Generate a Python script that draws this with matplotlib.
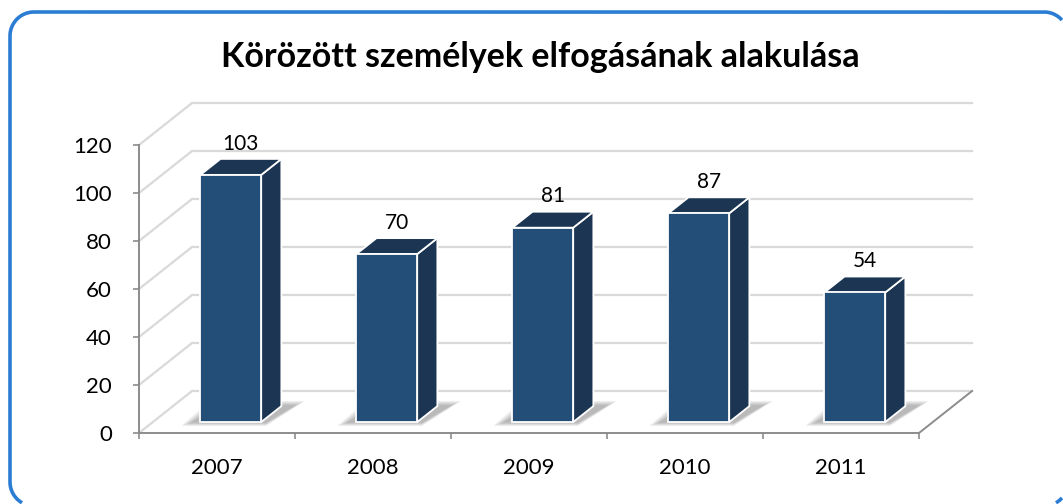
import numpy as np
import matplotlib
matplotlib.use("Agg")
import matplotlib.pyplot as plt
from matplotlib.patches import Polygon, Rectangle
from matplotlib.lines import Line2D
from matplotlib.transforms import Affine2D

# adatok
years = ["2007", "2008", "2009", "2010", "2011"]
values = [103, 70, 81, 87, 54]
yticks = [0, 20, 40, 60, 80, 100, 120]
title = "Körözött személyek elfogásának alakulása"

plt.rcParams['font.family'] = ['Lato', 'DejaVu Sans']

W, H = 1063, 504
fig = plt.figure(figsize=(W / 100, H / 100), dpi=100)

# az axes a "3D doboz" elso sikja
ax = fig.add_axes([139 / W, (H - 433) / H, 780 / W, 288 / H])
ax.set_xlim(0, len(years))
ax.set_ylim(0, 120)
ax.patch.set_visible(False)

DX, DY = 0.34, 17.5      # padlo melysege adategysegben
BW = 0.39                # oszlop szelesseg
F = 0.26                 # oszlop elejenek helye a melysegben
D = 0.38                 # oszlop melysege
ddx, ddy = D * DX, D * DY

grid_c = "#d9d9d9"
axis_c = "#8c8c8c"
front_c = "#234e78"
dark_c = "#1b3552"

n = len(years)
# racsvonalak: bal fal + hatso fal
for v in yticks:
    ax.plot([0, DX], [v, v + DY], color=grid_c, lw=1.6, clip_on=False, zorder=1)
    ax.plot([DX, n + DX], [v + DY, v + DY], color=grid_c, lw=1.6, clip_on=False, zorder=1)
# padlo jobb szele
ax.plot([n, n + DX], [0, DY], color=axis_c, lw=1.4, clip_on=False, zorder=1)

# tengelyek
for s in ["top", "right"]:
    ax.spines[s].set_visible(False)
for s in ["left", "bottom"]:
    ax.spines[s].set_color(axis_c)
    ax.spines[s].set_linewidth(1.4)
ax.set_yticks(yticks)
ax.set_yticklabels([str(t) for t in yticks])
ax.tick_params(axis="y", length=4.5, width=1.2, color=axis_c, pad=15, labelsize=16)
ax.set_xticks(range(n + 1))
ax.set_xticklabels([])
ax.tick_params(axis="x", which="major", length=4.5, width=1.2, color=axis_c)
ax.set_xticks([i + 0.5 for i in range(n)], minor=True)
ax.set_xticklabels(years, minor=True)
ax.tick_params(axis="x", which="minor", length=0, pad=18, labelsize=16)

for i, v in enumerate(values):
    x0 = i + 0.5 - BW / 2 + F * DX
    y0 = F * DY
    # arnyek
    for k in range(6):
        e = 0.012 * (6 - k)
        ey = 0.9 * (6 - k)
        shadow = [(x0 - e - 0.05, y0 - ey * 0.3), (x0 + BW + 0.03, y0 - ey * 0.3),
                  (x0 + BW + ddx + e + 0.08, y0 + ddy + ey * 0.4),
                  (x0 + ddx - e, y0 + ddy + ey * 0.4)]
        ax.add_patch(Polygon(shadow, closed=True, facecolor="#404040", edgecolor="none",
                             alpha=0.07, clip_on=False, zorder=2))
    # oldal
    side = [(x0 + BW, y0), (x0 + BW + ddx, y0 + ddy),
            (x0 + BW + ddx, y0 + v + ddy), (x0 + BW, y0 + v)]
    ax.add_patch(Polygon(side, closed=True, facecolor=dark_c, edgecolor="white",
                         lw=1.3, clip_on=False, zorder=3))
    # teteje
    top = [(x0, y0 + v), (x0 + BW, y0 + v),
           (x0 + BW + ddx, y0 + v + ddy), (x0 + ddx, y0 + v + ddy)]
    ax.add_patch(Polygon(top, closed=True, facecolor=dark_c, edgecolor="white",
                         lw=1.3, clip_on=False, zorder=3))
    # eleje
    ax.add_patch(Rectangle((x0, y0), BW, v, facecolor=front_c, edgecolor="white",
                           lw=1.3, clip_on=False, zorder=4))
    ax.text(x0 + BW / 2 + ddx / 2, y0 + v + ddy + 2.2, str(v), ha="center", va="bottom",
            fontsize=15, color="black", zorder=5)

fig.text(540 / W, (H - 57) / H, title, ha="center", va="center",
         fontsize=24.5, fontweight="bold")

# lekerekitett keret, csak a kepen beluli resze (pixel, felulrol merve)
L, T, R, B, r = 10, 12, 1068, 506, 24


def arc(cx, cy, a0, a1):
    t = np.radians(np.linspace(a0, a1, 40))
    return cx + r * np.cos(t), cy - r * np.sin(t)


parts = [arc(L + r, T + r, 180, 90), arc(R - r, T + r, 90, 0),
         arc(R - r, B - r, 0, -90), arc(L + r, B - r, -90, -180)]
fx = np.concatenate([p[0] for p in parts] + [parts[0][0][:1]])
fy = np.concatenate([p[1] for p in parts] + [parts[0][1][:1]])
out = (fx > W - 1) | (fy > H - 1)
fx[out] = np.nan
fy[out] = np.nan
px = Affine2D().scale(1 / W, 1 / H) + fig.transFigure
frame = Line2D(fx, H - fy, transform=px, color="#2b7cd3", lw=2.6,
               solid_capstyle="butt")
frame.set_in_layout(False)
fig.add_artist(frame)

fig.savefig("out.png", dpi=100)
